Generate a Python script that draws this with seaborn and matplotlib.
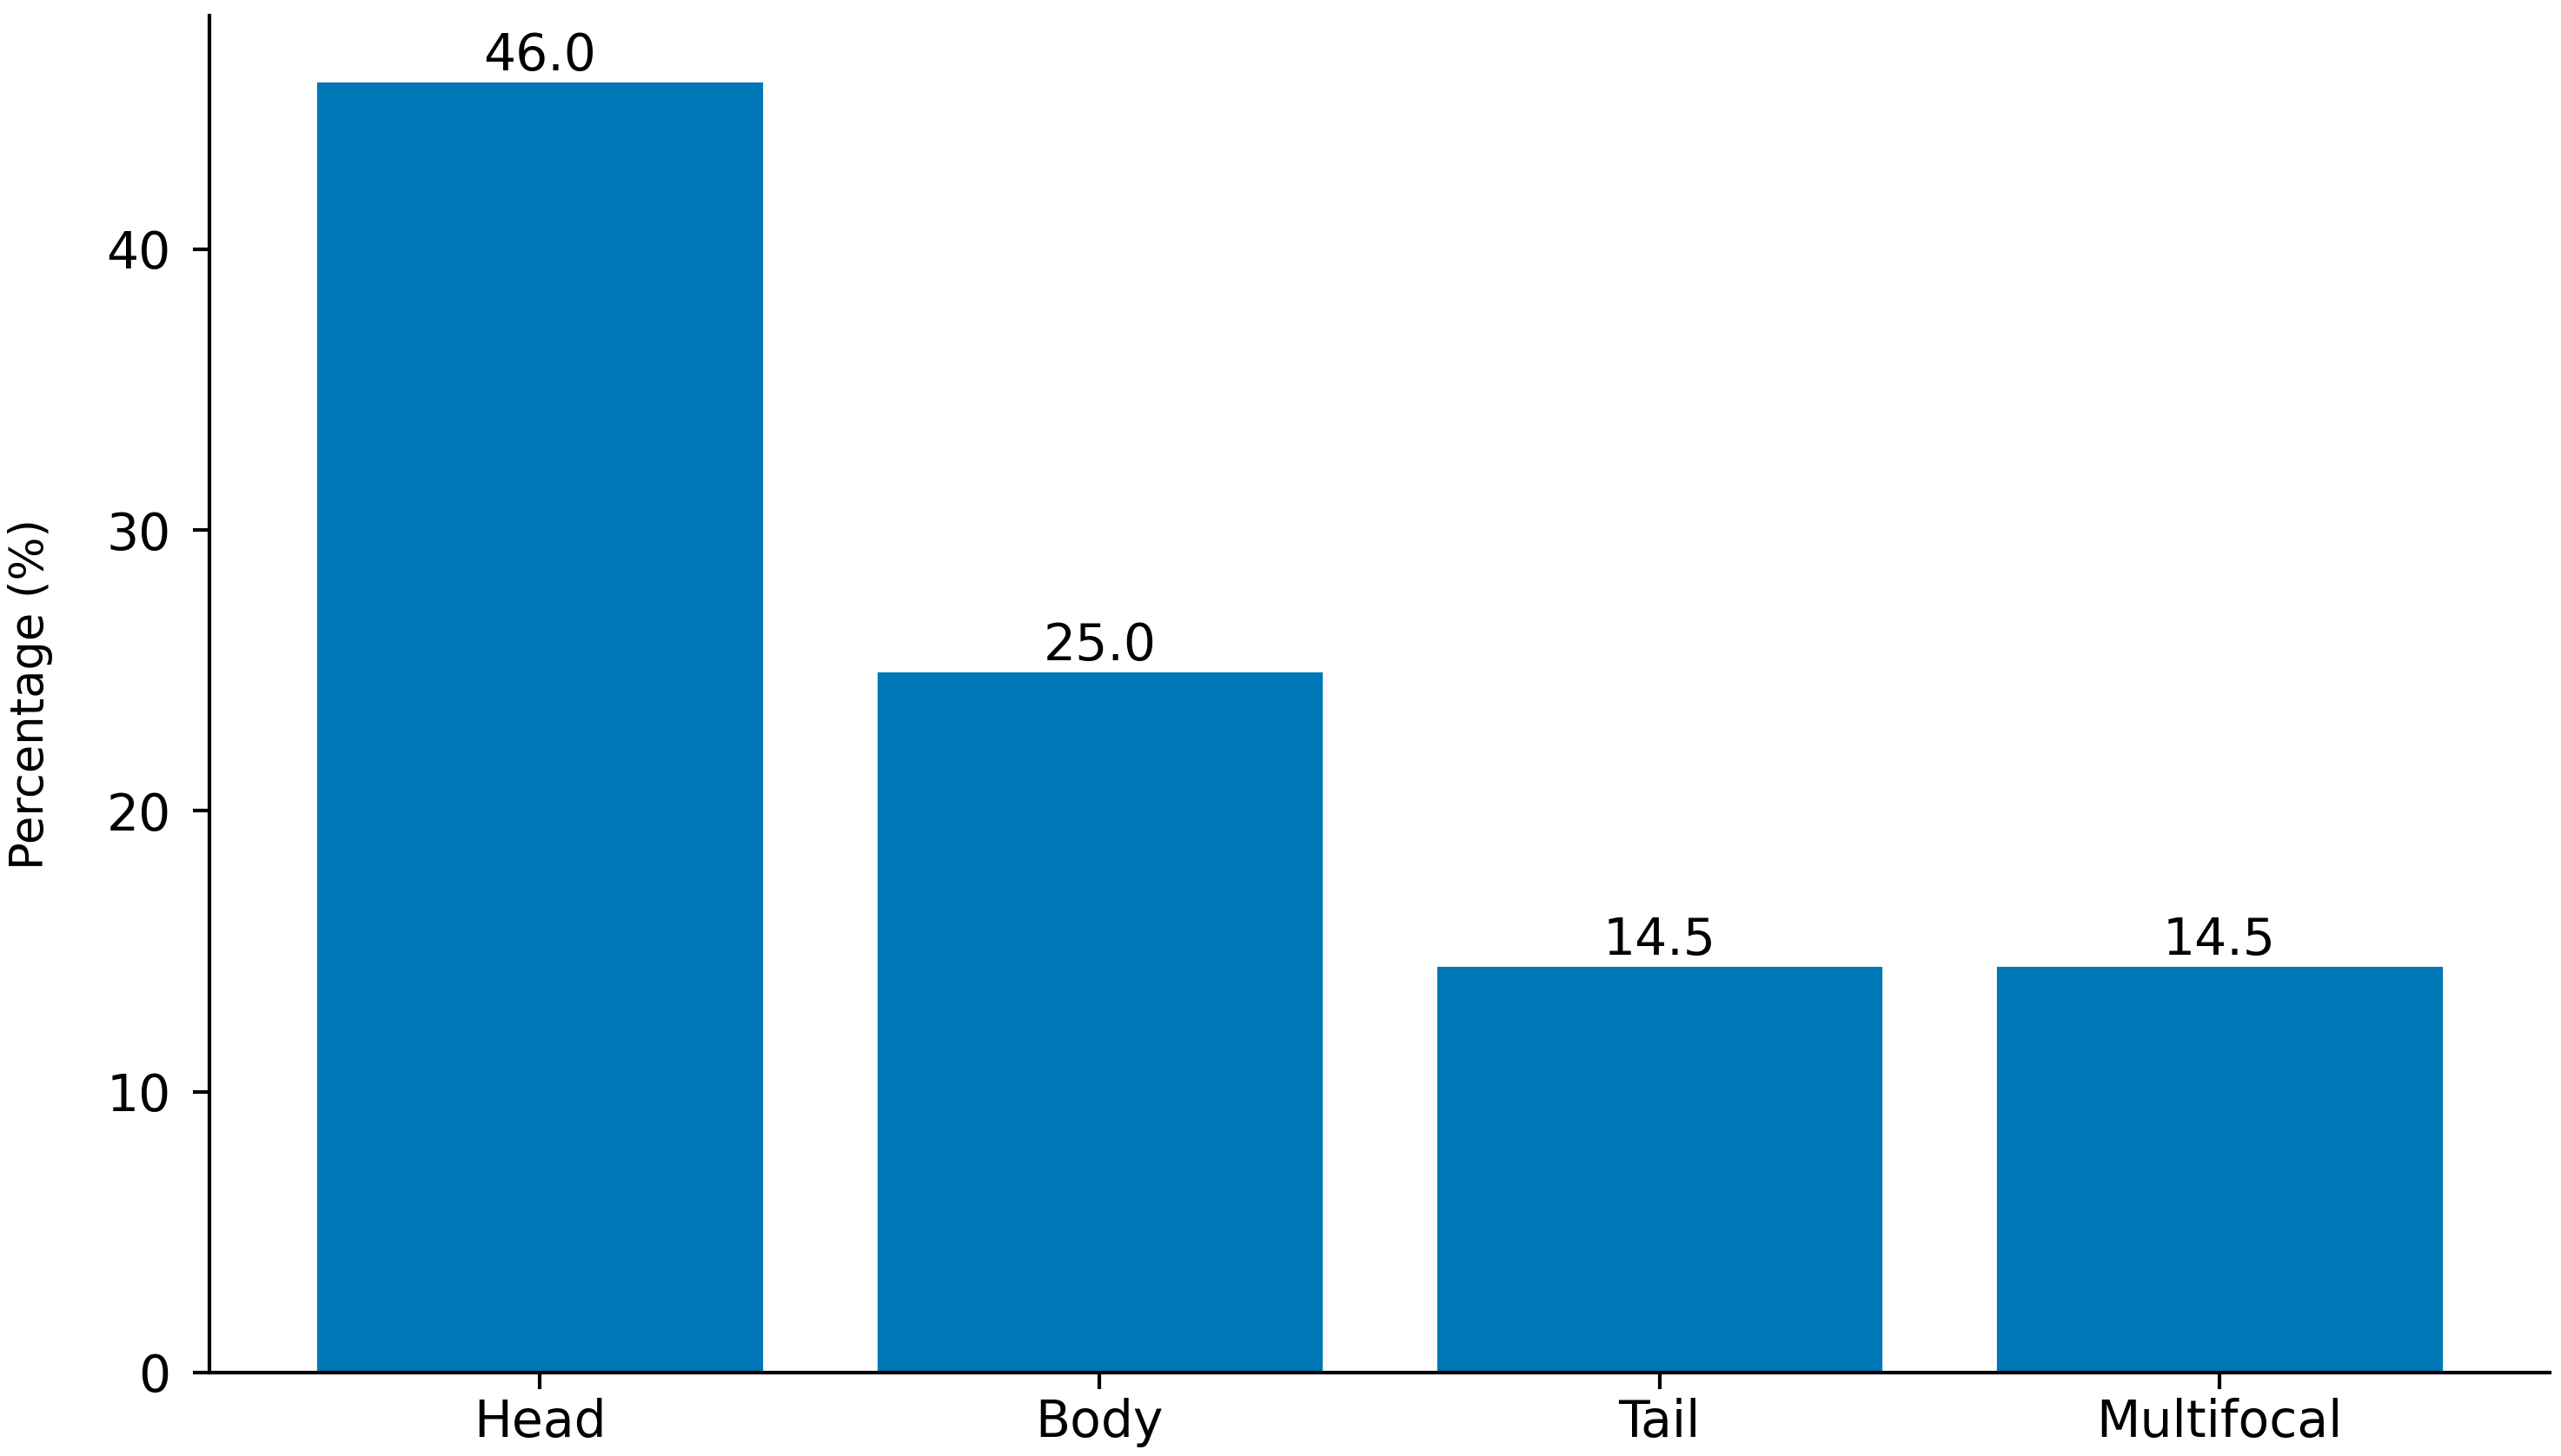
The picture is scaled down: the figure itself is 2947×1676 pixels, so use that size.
import matplotlib
matplotlib.use("Agg")
import matplotlib.pyplot as plt
import seaborn as sns
import pandas as pd

categories = ["Head", "Body", "Tail", "Multifocal"]
percentages = [46.0, 25.0, 14.5, 14.5]

df = pd.DataFrame({"Location": categories, "Percentage": percentages})

sns.set_style("ticks")
plt.rcParams['font.family'] = ['DejaVu Sans']
plt.rcParams['text.color'] = 'black'
plt.rcParams['axes.labelcolor'] = 'black'
plt.rcParams['xtick.color'] = 'black'
plt.rcParams['ytick.color'] = 'black'

fig = plt.figure(figsize=(14.735, 8.38), dpi=200)
ax = fig.add_axes([0.0818, 0.0573, 0.9138, 0.9317])

sns.barplot(data=df, x="Location", y="Percentage", color="#0077b6",
            saturation=1, width=0.8, ax=ax)

for p, v in zip(ax.patches, percentages):
    ax.annotate(f"{v:.1f}", (p.get_x() + p.get_width() / 2, p.get_height()),
                ha="center", va="bottom", fontsize=21, xytext=(0, 0),
                textcoords="offset points", color="black")

ax.set_xlim(-0.59, 3.59)
ax.set_ylim(0, 48.3)
ax.set_xlabel("")
ax.set_ylabel("Percentage (%)", fontsize=19, labelpad=22, color="black")
ax.tick_params(axis="both", labelsize=21, length=7, width=1.5,
               color="black", labelcolor="black")
ax.tick_params(axis="y", pad=9)
for s in ["left", "bottom"]:
    ax.spines[s].set_linewidth(1.5)
    ax.spines[s].set_color("black")
sns.despine(ax=ax)

fig.savefig("out.png", dpi=200)
